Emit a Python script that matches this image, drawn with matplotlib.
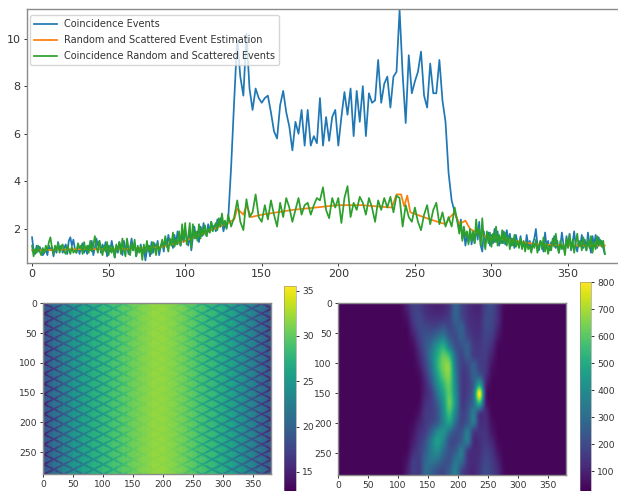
import numpy as np
import matplotlib
matplotlib.use('Agg')
import matplotlib.pyplot as plt

W, H = 618, 491

# flat tails are sampled every channel, the plateau (128-276) every 2
blue_left = [
    1.65, 1.1, 0.95, 1.3, 1.05, 1.25, 1.1, 0.9, 1.0, 1.15,
    0.9, 1.3, 1.1, 1.25, 0.85, 1.2, 1.0, 1.45, 1.1, 1.3,
    1.0, 1.2, 1.35, 0.95, 1.5, 1.65, 1.3, 1.55, 1.15, 1.0,
    1.3, 0.95, 1.25, 1.4, 1.0, 1.2, 0.95, 1.3, 1.1, 1.5,
    0.9, 1.2, 1.6, 1.3, 1.5, 1.0, 1.35, 1.1, 1.45, 0.85,
    1.3, 1.05, 1.5, 1.15, 0.8, 1.25, 1.0, 1.45, 1.2, 0.9,
    1.5, 1.15, 1.3, 0.95, 1.2, 1.6, 1.1, 1.4, 0.85, 1.2,
    1.05, 1.35, 0.9, 1.25, 0.68, 1.1, 1.3, 0.85, 1.45, 1.0,
    1.4, 1.15, 1.5, 0.9, 1.25, 1.45, 1.05, 1.6, 1.25, 1.75,
    1.4, 1.55, 1.2, 1.75, 1.35, 1.9, 1.5, 1.3, 1.8, 1.45,
    2.0, 1.6, 1.3, 1.8, 1.1, 1.65, 2.1, 1.6, 1.9, 1.45,
    2.1, 1.7, 2.25, 1.9, 1.7, 2.2, 1.85, 2.3, 2.0, 2.15,
    1.9, 2.4, 2.1, 2.45, 2.3, 1.9, 2.2, 2.05,
]
blue_mid = [
    2.3, 4.6, 7.4, 10.0, 8.4, 7.6, 10.2, 7.9, 7.0, 7.9, 7.5,
    7.3, 7.5, 7.6, 6.9, 6.1, 5.8, 7.2, 7.8, 6.9, 6.3, 5.3, 6.5, 6.0, 7.0, 5.5,
    7.0, 5.5, 5.9, 5.6, 7.5, 5.5, 6.7, 5.7, 6.7, 7.0,
    5.5, 6.7, 7.75, 6.8, 7.9, 5.9, 7.8, 6.5, 8.0, 5.9, 7.7, 7.3, 7.4, 9.1, 7.3,
    8.1, 8.4, 7.1, 8.4, 8.6, 11.2, 8.5, 6.45, 9.3, 7.7,
    8.2, 8.6, 9.45, 7.6, 7.1, 8.95, 7.7, 7.7, 9.1, 7.4, 6.5, 4.35, 3.2, 2.7,
]
blue_right = [
    2.3, 2.0, 2.4, 1.6, 1.9, 1.3, 1.75, 1.45, 2.0, 1.35,
    1.8, 1.4, 2.1, 1.55, 2.3, 1.3, 1.05, 1.9, 1.4, 1.6,
    1.85, 1.3, 1.75, 1.4, 2.0, 1.45, 1.9, 1.3, 1.6, 1.4,
    1.9, 1.35, 1.95, 1.5, 1.8, 1.3, 1.6, 1.2, 1.75, 1.4,
    1.3, 1.7, 1.25, 1.45, 1.15, 1.75, 1.3, 1.5, 1.1, 1.4,
    1.6, 2.0, 1.35, 1.1, 1.5, 1.3, 1.05, 1.85, 1.25, 1.5,
    1.1, 1.45, 1.3, 1.7, 1.2, 1.5, 1.0, 1.3, 1.85, 1.35,
    1.0, 1.7, 1.25, 1.8, 1.1, 1.4, 1.9, 1.3, 1.05, 1.5,
    1.3, 1.75, 1.2, 1.55, 1.1, 1.85, 1.35, 1.0, 1.7, 1.3,
    1.75, 1.2, 1.65, 1.35, 1.5, 1.2, 0.95,
]
green_left = [
    1.3, 0.85, 1.15, 1.0, 1.3, 1.05, 0.9, 1.2, 1.0, 1.3,
    1.1, 1.45, 1.65, 1.2, 0.95, 1.3, 1.1, 1.4, 1.0, 1.25,
    1.35, 1.05, 0.95, 1.3, 1.15, 0.95, 1.25, 1.0, 1.1, 1.0,
    1.4, 1.2, 1.3, 0.95, 1.45, 1.1, 1.3, 1.0, 1.5, 1.05,
    1.3, 1.7, 1.25, 1.0, 1.5, 1.15, 0.9, 1.3, 1.05, 1.45,
    0.9, 1.3, 1.0, 1.25, 0.8, 1.35, 1.1, 1.45, 0.95, 1.6,
    1.1, 0.85, 1.6, 1.2, 0.9, 1.4, 1.1, 1.55, 0.85, 1.3,
    1.0, 1.25, 0.7, 1.35, 1.0, 1.5, 1.05, 1.3, 0.95, 1.45,
    1.2, 0.9, 1.4, 1.1, 1.25, 1.55, 1.2, 1.7, 1.35, 1.05,
    1.6, 1.3, 1.85, 1.25, 1.55, 1.35, 1.9, 1.3, 2.2, 1.5,
    2.25, 1.35, 1.7, 2.25, 1.2, 2.2, 1.6, 1.9, 1.5, 2.2,
    1.6, 2.05, 1.75, 2.15, 1.7, 2.0, 1.85, 2.3, 1.9, 2.1,
    2.25, 1.95, 2.45, 2.1, 2.65, 2.15, 2.35, 2.0,
]
green_mid = [
    2.6, 2.1, 2.5, 3.2, 2.3, 1.95, 3.25, 2.5, 2.7, 3.45, 2.5,
    2.3, 3.0, 2.4, 3.2, 2.6, 2.1, 3.1, 2.5, 3.3, 2.9, 2.3, 2.8, 3.3, 2.6, 3.0,
    3.1, 2.6, 3.0, 3.3, 3.2, 3.75, 2.8, 2.45, 3.3, 2.9,
    3.3, 2.25, 3.3, 3.8, 2.5, 3.1, 2.8, 3.35, 3.1, 2.6, 3.3, 2.9, 2.3, 3.2, 2.8,
    3.3, 2.9, 3.35, 2.7, 3.4, 3.3, 2.1, 3.0, 2.5, 2.3,
    2.9, 2.3, 1.95, 2.6, 3.0, 2.2, 2.8, 3.1, 2.2, 2.7, 2.1, 2.5, 2.1, 2.9,
]
green_right = [
    2.2, 1.8, 2.3, 1.5, 2.1, 1.7, 1.9, 1.35, 2.0, 1.5,
    1.9, 1.4, 2.4, 1.75, 2.0, 1.3, 2.45, 1.5, 1.15, 1.9,
    1.4, 1.85, 1.25, 1.8, 1.45, 2.1, 1.3, 1.75, 1.4, 1.95,
    1.4, 1.85, 1.3, 1.7, 1.15, 1.6, 1.3, 1.75, 1.25, 1.5,
    1.2, 1.6, 1.15, 1.5, 1.05, 1.45, 1.15, 1.3, 1.0, 1.4,
    1.2, 1.55, 1.0, 1.3, 1.5, 1.15, 1.65, 1.05, 1.4, 0.95,
    1.3, 1.1, 1.6, 1.25, 1.8, 1.3, 1.0, 1.5, 1.15, 1.35,
    0.9, 1.6, 1.2, 1.75, 1.15, 1.55, 1.0, 1.4, 1.8, 1.25,
    1.5, 1.1, 1.65, 1.3, 1.1, 1.55, 1.2, 1.7, 1.0, 1.45,
    1.15, 1.7, 1.3, 1.55, 1.25, 1.5, 0.95,
]
estimate_x = [0, 30, 60, 85, 100, 115, 128, 132, 134, 138, 140, 143, 150, 170, 200, 215, 235, 238, 241, 243, 245, 247, 260, 270, 273, 276, 279, 283, 286, 295, 310, 330, 350, 374]
estimate_y = [1.1, 1.15, 1.15, 1.25, 1.5, 1.9, 2.25, 2.4, 2.85, 2.6, 3.0, 2.5, 2.6, 2.8, 3.0, 3.0, 2.9, 3.45, 3.45, 2.95, 3.4, 2.7, 2.4, 2.2, 2.5, 2.7, 2.2, 2.35, 2.0, 1.7, 1.55, 1.35, 1.3, 1.3]

xticks = [0, 50, 100, 150, 200, 250, 300, 350]
yticks = [2, 4, 6, 8, 10]
heat_xticks = [0, 50, 100, 150, 200, 250, 300, 350]
heat_yticks = [0, 50, 100, 150, 200, 250]

# attenuation map, one value for each 3 lattice columns
atten_profile = [19.5, 20.5, 21.5, 22.5, 23.5, 24.3, 25, 25.7, 26.3, 26.9, 27.4, 27.9, 28.3, 28.7, 29.1, 29.5, 29.9, 30.3, 30.7, 31, 31.3, 31.6, 31.9,
                 31.9, 31.8, 31.6, 31.3, 31, 30.6, 30.2, 29.7, 29.2, 28.8, 28.4, 28, 27.5, 27, 26.4, 25.8, 25.1, 24.4, 23.6, 22.8, 21.9, 21, 20]
atten_gain = [1, 1, 1, 1, 1, 1, 1, 1, .95, .9, .85, .8, .75, .65, .55, .45, .35, .25, .18, .12, .1, .08, .08,
              .08, .08, .1, .12, .18, .25, .35, .45, .55, .65, .75, .8, .85, .9, .95, 1, 1, 1, 1, 1, 1, 1, 1]
# one period of the crystal gap lattice
lattice_tile = [
    [-6, -2, -.4, 0, 0, 0, 0, 0, 0, 0, -.4, -2],
    [-2, -6, -2, -.4, 0, 0, 0, 0, 0, -.4, -2, -6],
    [-.4, -2, -6, -2, -.4, 0, 0, 0, -.4, -2, -6, -2],
    [0, -.4, -2, -6, -2, -.4, 0, -.4, -2, -6, -2, -.4],
    [0, 0, -.4, -2, -6, -2, -.4, -2, -6, -2, -.4, 0],
    [0, 0, 0, -.4, -2, -6, -2, -6, -2, -.4, 0, 0],
    [0, 0, 0, 0, -.4, -2, -6, -2, -.4, 0, 0, 0],
    [0, 0, 0, -.4, -2, -6, -2, -6, -2, -.4, 0, 0],
    [0, 0, -.4, -2, -6, -2, -.4, -2, -6, -2, -.4, 0],
    [0, -.4, -2, -6, -2, -.4, 0, -.4, -2, -6, -2, -.4],
    [-.4, -2, -6, -2, -.4, 0, 0, 0, -.4, -2, -6, -2],
    [-2, -6, -2, -.4, 0, 0, 0, 0, 0, -.4, -2, -6],
]
# sinogram, rows every 16 from y=8, columns every 10 from x=105 to 275
sino_background = 40
sino_rows = [
    [45, 100, 170, 170, 130, 110, 100, 110, 150, 270, 190, 140, 110, 110, 180, 200, 130, 50],
    [42, 70, 160, 190, 150, 130, 130, 140, 170, 270, 200, 140, 120, 120, 190, 190, 130, 45],
    [40, 50, 130, 190, 190, 180, 190, 220, 190, 230, 260, 160, 130, 130, 190, 180, 110, 42],
    [40, 42, 90, 170, 220, 240, 300, 340, 240, 210, 260, 190, 140, 140, 180, 160, 80, 40],
    [40, 40, 60, 140, 230, 310, 430, 500, 350, 220, 220, 250, 160, 150, 170, 130, 50, 40],
    [40, 40, 45, 110, 210, 350, 500, 610, 540, 290, 190, 250, 170, 160, 160, 100, 42, 40],
    [40, 40, 42, 80, 180, 320, 520, 640, 640, 330, 180, 190, 250, 170, 150, 70, 40, 40],
    [40, 40, 40, 55, 140, 280, 470, 610, 640, 360, 170, 170, 260, 230, 140, 55, 40, 40],
    [40, 40, 40, 45, 110, 220, 400, 540, 610, 380, 170, 160, 250, 460, 120, 42, 40, 40],
    [40, 40, 40, 42, 110, 170, 320, 480, 600, 400, 170, 170, 300, 790, 120, 40, 40, 40],
    [40, 40, 40, 50, 130, 170, 260, 430, 620, 420, 170, 190, 300, 520, 110, 40, 40, 40],
    [40, 40, 40, 70, 150, 170, 230, 400, 560, 370, 190, 220, 340, 170, 120, 45, 40, 40],
    [40, 40, 50, 100, 150, 190, 250, 380, 470, 300, 190, 240, 330, 140, 130, 60, 40, 40],
    [40, 40, 70, 130, 170, 270, 390, 420, 310, 220, 230, 340, 170, 140, 140, 80, 42, 40],
    [40, 42, 90, 150, 220, 350, 460, 370, 220, 200, 260, 330, 130, 130, 150, 110, 50, 40],
    [40, 50, 120, 170, 250, 350, 400, 300, 220, 250, 340, 170, 120, 130, 170, 140, 70, 40],
    [40, 70, 160, 170, 280, 330, 310, 240, 220, 320, 300, 150, 120, 140, 190, 160, 100, 42],
    [40, 90, 170, 160, 290, 270, 220, 200, 260, 350, 200, 130, 110, 150, 210, 170, 120, 50],
]

GREY = '#8a8a8a'
TEXT = '#333333'


def px_axes(fig, left, top, right, bottom):
    return fig.add_axes([left / W, 1 - bottom / H, (right - left) / W, (bottom - top) / H])


def style(ax, size):
    for s in ax.spines.values():
        s.set_color(GREY)
        s.set_linewidth(1.0)
    ax.tick_params(labelsize=size, colors=TEXT, length=2.5, width=0.7, pad=2)


fig = plt.figure(figsize=(W / 100, H / 100), dpi=100)

ax = px_axes(fig, 27, 9, 640, 263)
x = np.concatenate([np.arange(0, 128), np.arange(128, 278, 2), np.arange(278, 375)])
coincidence = blue_left + blue_mid + blue_right
random_scattered = green_left + green_mid + green_right
ax.plot(x, coincidence, color='tab:blue', lw=1.25, label='Coincidence Events')
ax.plot(estimate_x, estimate_y, color='tab:orange', lw=1.25, label='Random and Scattered Event Estimation')
ax.plot(x, random_scattered, color='tab:green', lw=1.25, label='Coincidence Random and Scattered Events')
ax.set_xlim(-3.3, 397)
ax.set_ylim(0.57, 11.24)
ax.set_xticks(xticks)
ax.set_yticks(yticks)
style(ax, 8)
ax.legend(loc='upper left', bbox_to_anchor=(0.004, 0.98), fontsize=7.0, borderaxespad=0.1, labelcolor=TEXT,
          labelspacing=0.62, handlelength=2.3)

# attenuation image
cols = np.repeat(atten_profile, 3)
gain = np.repeat(atten_gain, 3)
tile = np.array(lattice_tile)
n_rows = 204
n_cols = len(cols)
atten = np.array([[cols[c] + gain[c] * tile[r % 12, c % 12] for c in range(n_cols)] for r in range(n_rows)])

ax2 = px_axes(fig, 43, 303, 271, 474)
im = ax2.imshow(atten, cmap='viridis', vmin=12.9, vmax=35.5, aspect='auto', interpolation='bilinear',
                extent=(-0.5, 380.5, 286.5, -0.5))
ax2.set_xticks(heat_xticks)
ax2.set_yticks(heat_yticks)
style(ax2, 6.6)
cax = px_axes(fig, 284, 286, 296, 491)
cb = fig.colorbar(im, cax=cax)
cb.set_ticks([15, 20, 25, 30, 35])
style(cax, 6.6)
cb.outline.set_linewidth(0.4)

# sinogram image
sino = np.pad(np.array(sino_rows, dtype=float), ((0, 0), (10, 10)), constant_values=sino_background)
ax3 = px_axes(fig, 338, 303, 566, 475)
im2 = ax3.imshow(sino, cmap='viridis', vmin=26, vmax=800, aspect='auto', interpolation='catrom',
                 extent=(-0.5, 380.5, 286.5, -0.5))
ax3.set_xticks(heat_xticks)
ax3.set_yticks(heat_yticks)
style(ax3, 6.6)
cax2 = px_axes(fig, 580, 282, 591, 491)
cb2 = fig.colorbar(im2, cax=cax2)
cb2.set_ticks([100, 200, 300, 400, 500, 600, 700, 800])
style(cax2, 6.6)
cb2.outline.set_linewidth(0.4)

plt.savefig('out.png', dpi=100)
plt.close()
